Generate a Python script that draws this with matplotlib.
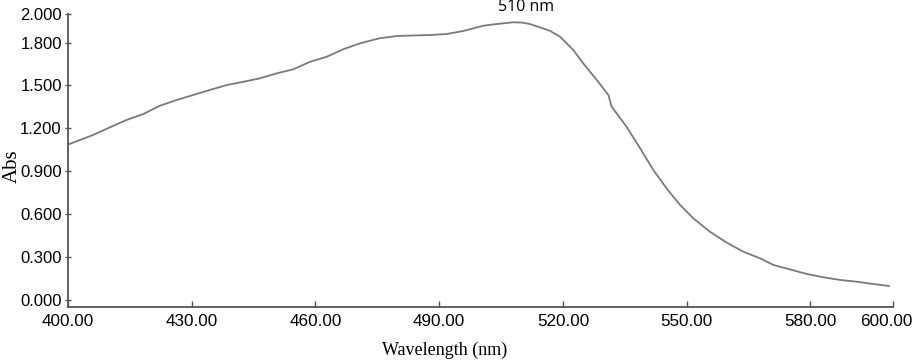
import matplotlib
matplotlib.use("Agg")
import matplotlib.pyplot as plt

wavelength = [399.7, 402.9, 406.1, 410.2, 414.2, 418.3, 422.3, 426.4, 430.4, 434.4,
              438.5, 442.5, 446.5, 450.6, 454.6, 458.7, 462.7, 466.7, 470.8, 475.5,
              479.7, 483.8, 487.8, 491.8, 495.8, 500.7, 504.0, 507.9, 510.0, 512.0,
              516.8, 519.3, 522.5, 524.9, 528.2, 531.0, 531.8, 535.4, 538.7, 541.9,
              545.1, 548.4, 551.6, 555.6, 559.7, 563.7, 567.8, 571.0, 575.0, 579.1,
              583.1, 587.2, 591.2, 595.2, 599.0]
absorbance = [1.084, 1.119, 1.154, 1.208, 1.259, 1.301, 1.359, 1.399, 1.434, 1.469,
              1.503, 1.526, 1.550, 1.585, 1.613, 1.666, 1.701, 1.753, 1.795, 1.830,
              1.846, 1.850, 1.853, 1.860, 1.881, 1.918, 1.930, 1.942, 1.940, 1.930,
              1.883, 1.841, 1.748, 1.655, 1.538, 1.434, 1.352, 1.212, 1.061, 0.909,
              0.781, 0.664, 0.571, 0.478, 0.401, 0.338, 0.291, 0.245, 0.214, 0.182,
              0.159, 0.140, 0.128, 0.112, 0.098]

x_ticks = [400, 430, 460, 490, 520, 550, 580, 600]
x_tick_labels = ["400.00", "430.00", "460.00", "490.00", "520.00", "550.00", "580.00", "600.00"]
y_ticks = [0.0, 0.3, 0.6, 0.9, 1.2, 1.5, 1.8, 2.0]
y_tick_labels = ["0.000", "0.300", "0.600", "0.900", "1.200", "1.500", "1.800", "2.000"]
peak_label = "510 nm"
peak_pos = (511, 2.05)

fig = plt.figure(figsize=(9.16, 3.6), dpi=100)
ax = fig.add_axes([68/916, 1-307/360, 825/916, 293/360])

ax.plot(wavelength, absorbance, color="#7a7a7a", lw=1.3)

ax.set_xlim(400, 600)
ax.set_ylim(-0.049, 2.0)
ax.set_xticks(x_ticks)
# last label drawn separately, nudged left so it stays inside the figure
ax.set_xticklabels(x_tick_labels[:-1] + [""], family="Liberation Sans", fontsize=12.3)
ax.annotate(x_tick_labels[-1], xy=(x_ticks[-1], 0), xycoords=("data", "axes fraction"),
            xytext=(-5, -5), textcoords="offset points", ha="center", va="top",
            family="Liberation Sans", fontsize=12.3, annotation_clip=False)
ax.set_yticks(y_ticks)
ax.set_yticklabels(y_tick_labels, family="Liberation Sans", fontsize=12)

for s in ["top", "right"]:
    ax.spines[s].set_visible(False)
for s in ["left", "bottom"]:
    ax.spines[s].set_color("#555555")
    ax.spines[s].set_linewidth(1.3)

ax.tick_params(axis="x", direction="in", length=4, width=1, color="#555555", pad=5)
ax.tick_params(axis="y", direction="inout", length=5, width=1, color="#555555", pad=2)

ax.set_xlabel("Wavelength (nm)", family="Liberation Serif", fontsize=13, va="center")
ax.xaxis.set_label_coords(0.457, -0.147)
ax.set_ylabel("Abs", family="Liberation Serif", fontsize=15, va="center")
ax.yaxis.set_label_coords(-0.068, 0.481)

ax.text(peak_pos[0], peak_pos[1], peak_label, family="Open Sans", fontsize=11.5,
        ha="center", va="center", clip_on=False)

fig.savefig("out.png", dpi=100)
